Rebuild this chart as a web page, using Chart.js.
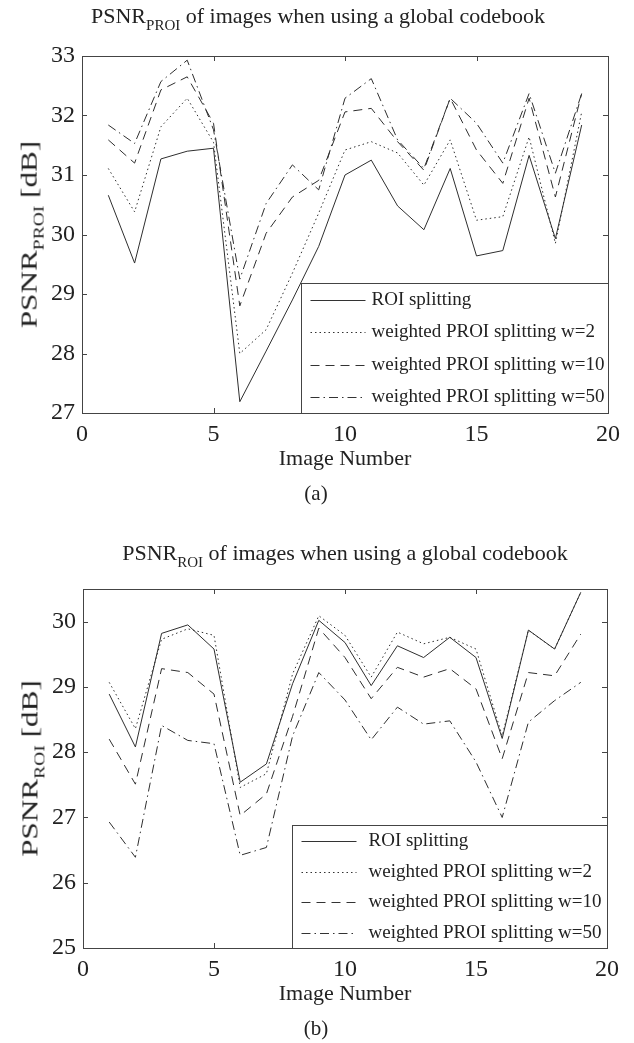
<!DOCTYPE html>
<html>
<head>
<meta charset="utf-8">
<script src="https://cdn.jsdelivr.net/npm/chart.js@4/dist/chart.umd.min.js"></script>
<style>
  body { margin: 0; width: 634px; height: 1043px; background: #fff; position: relative; overflow: hidden;
         font-family: "Liberation Serif", "DejaVu Serif", serif; color: #222; }
  .wrap { position: absolute; left: 0; width: 634px; }
  .txt { position: absolute; white-space: nowrap; line-height: 22px; }
  .sub { font-size: 15px; position: relative; top: 7px; }
  .ylab { position: absolute; white-space: nowrap; font-size: 24px; line-height: 24px;
          transform-origin: center center; }
</style>
</head>
<body>
<div class="wrap" style="top:0;height:520px"><canvas id="chartA"></canvas></div>
<div class="wrap" style="top:520px;height:523px"><canvas id="chartB"></canvas></div>

<div class="txt" style="left:0;width:636px;text-align:center;top:5px;font-size:22px">PSNR<span class="sub">PROI</span> of images when using a global codebook</div>
<div class="txt" style="left:0;width:690px;text-align:center;top:542px;font-size:22px">PSNR<span class="sub">ROI</span> of images when using a global codebook</div>

<div class="txt" style="left:0;width:690px;text-align:center;top:447px;font-size:22px">Image Number</div>
<div class="txt" style="left:0;width:690px;text-align:center;top:982px;font-size:22px">Image Number</div>

<div class="txt" style="left:0;width:632px;text-align:center;top:482px;font-size:21px">(a)</div>
<div class="txt" style="left:0;width:632px;text-align:center;top:1017px;font-size:21px">(b)</div>

<div class="ylab" id="ylabA">PSNR<span class="sub">PROI</span> [dB]</div>
<div class="ylab" id="ylabB">PSNR<span class="sub">ROI</span> [dB]</div>

<script>
// image numbers on the x axis
var imageNo = [1, 2, 3, 4, 5, 6, 7, 8, 9, 10, 11, 12, 13, 14, 15, 16, 17, 18, 19];

var seriesNames = ["ROI splitting", "weighted PROI splitting w=2",
                   "weighted PROI splitting w=10", "weighted PROI splitting w=50"];

// (a) PSNR of the PROI
var proiRoi = [30.66, 29.52, 31.27, 31.40, 31.45, 27.19, 28.04, 28.90, 29.80, 31.00, 31.25, 30.48, 30.08, 31.11, 29.64, 29.73, 31.33, 29.93, 31.84];
var proiW2  = [31.11, 30.38, 31.81, 32.29, 31.55, 28.00, 28.40, 29.35, 30.36, 31.42, 31.56, 31.37, 30.83, 31.59, 30.24, 30.30, 31.64, 29.85, 32.06];
var proiW10 = [31.59, 31.20, 32.43, 32.65, 31.87, 28.80, 30.02, 30.63, 30.91, 32.06, 32.12, 31.56, 31.08, 32.29, 31.42, 30.86, 32.29, 30.63, 32.37];
var proiW50 = [31.84, 31.53, 32.57, 32.93, 31.76, 29.25, 30.52, 31.17, 30.75, 32.29, 32.62, 31.59, 31.11, 32.29, 31.87, 31.20, 32.37, 31.03, 32.37];

// (b) PSNR of the ROI
var roiRoi = [28.89, 28.08, 29.82, 29.95, 29.58, 27.54, 27.82, 29.05, 30.02, 29.68, 29.02, 29.63, 29.45, 29.76, 29.45, 28.21, 29.87, 29.58, 30.45];
var roiW2  = [29.07, 28.36, 29.73, 29.89, 29.79, 27.46, 27.67, 29.20, 30.09, 29.79, 29.15, 29.84, 29.66, 29.76, 29.58, 28.25, 29.87, 29.58, 30.45];
var roiW10 = [28.20, 27.51, 29.28, 29.22, 28.89, 27.03, 27.36, 28.55, 29.90, 29.45, 28.82, 29.30, 29.15, 29.28, 28.97, 27.90, 29.22, 29.17, 29.81];
var roiW50 = [26.93, 26.39, 28.41, 28.18, 28.13, 26.42, 26.54, 28.25, 29.22, 28.80, 28.19, 28.69, 28.43, 28.48, 27.85, 27.00, 28.46, 28.79, 29.07];

var dashes = [[], [1.5, 3], [9, 6], [9, 4, 1.5, 4]];
var serif = "Liberation Serif";

// box round the axes, inward ticks, legend in the lower right corner
const boxPlugin = {
    id: "box",
    afterDatasetsDraw(chart, args, opts) {
        const ctx = chart.ctx, a = chart.chartArea;
        const sx = chart.scales.x, sy = chart.scales.y;
        ctx.save();
        ctx.strokeStyle = "#444";
        ctx.lineWidth = 1;
        ctx.setLineDash([]);
        ctx.beginPath();
        sx.ticks.forEach(t => {
            const p = Math.round(sx.getPixelForValue(t.value)) + 0.5;
            ctx.moveTo(p, a.bottom); ctx.lineTo(p, a.bottom - 5);
            ctx.moveTo(p, a.top); ctx.lineTo(p, a.top + 5);
        });
        sy.ticks.forEach(t => {
            const p = Math.round(sy.getPixelForValue(t.value)) + 0.5;
            ctx.moveTo(a.left, p); ctx.lineTo(a.left + 5, p);
            ctx.moveTo(a.right, p); ctx.lineTo(a.right - 5, p);
        });
        ctx.stroke();
        ctx.strokeRect(Math.round(a.left) + 0.5, Math.round(a.top) + 0.5,
                       Math.round(a.right - a.left), Math.round(a.bottom - a.top));

        // legend
        const lw = opts.width, lh = opts.height;
        const lx = Math.round(a.right - lw) + 0.5, ly = Math.round(a.bottom - lh) + 0.5;
        ctx.fillStyle = "#fff";
        ctx.fillRect(lx, ly, lw, lh);
        ctx.strokeRect(lx, ly, lw, lh);
        ctx.font = "19px " + serif;
        ctx.textBaseline = "middle";
        ctx.textAlign = "left";
        const n = chart.data.datasets.length;
        const step = lh / n;
        chart.data.datasets.forEach((ds, i) => {
            const y = Math.round(ly + step * (i + 0.5)) + 0.5;
            ctx.strokeStyle = "#333";
            ctx.setLineDash(ds.borderDash || []);
            ctx.beginPath();
            ctx.moveTo(lx + 9, y); ctx.lineTo(lx + 64, y);
            ctx.stroke();
            ctx.fillStyle = "#222";
            ctx.fillText(ds.label, lx + opts.textOffset, y);
        });
        ctx.restore();
    }
};

const makeChart = (id, series, yMin, yMax, pad, yW, xH, legend) => {
    var ctx = document.getElementById(id).getContext("2d");
    return new Chart(ctx, {
        type: "line",
        data: {
            datasets: series.map((vals, i) => ({
                label: seriesNames[i],
                data: imageNo.map((x, k) => ({ x: x, y: vals[k] })),
                borderColor: "#2e2e2e",
                borderWidth: 1,
                borderDash: dashes[i],
                pointRadius: 0,
                fill: false,
                tension: 0
            }))
        },
        options: {
            responsive: false,
            animation: false,
            layout: { padding: pad },
            plugins: { legend: { display: false }, tooltip: { enabled: false }, box: legend },
            scales: {
                x: {
                    type: "linear", min: 0, max: 20,
                    ticks: { stepSize: 5, padding: 7, maxRotation: 0, color: "#222",
                             font: { family: serif, size: 24 } },
                    grid: { display: false, drawTicks: false },
                    border: { display: false },
                    afterFit: s => { s.height = xH; }
                },
                y: {
                    min: yMin, max: yMax,
                    ticks: { stepSize: 1, padding: 7, color: "#222",
                             font: { family: serif, size: 24 } },
                    grid: { display: false, drawTicks: false },
                    border: { display: false },
                    // only whole dB values get a label
                    afterBuildTicks: s => { s.ticks = s.ticks.filter(t => Number.isInteger(t.value)); },
                    afterFit: s => { s.width = yW; }
                }
            }
        },
        plugins: [boxPlugin]
    });
};

document.getElementById("chartA").width = 634;
document.getElementById("chartA").height = 520;
document.getElementById("chartB").width = 634;
document.getElementById("chartB").height = 523;

makeChart("chartA", [proiRoi, proiW2, proiW10, proiW50], 27, 33,
          { top: 56, right: 26, left: 0, bottom: 0 }, 82, 107,
          { width: 307, height: 130, textOffset: 70 });
makeChart("chartB", [roiRoi, roiW2, roiW10, roiW50], 25, 30.5,
          { top: 69, right: 27, left: 0, bottom: 0 }, 83, 95,
          { width: 315, height: 123, textOffset: 76 });

// rotated y axis titles, centred on the plot areas
const placeY = (id, cx, cy) => {
    const el = document.getElementById(id);
    const w = el.offsetWidth, hh = el.offsetHeight;
    el.style.left = (cx - w / 2) + "px";
    el.style.top = (cy - hh / 2) + "px";
    el.style.transform = "rotate(-90deg) scaleX(1.3)";
};
placeY("ylabA", 30, 234);
placeY("ylabB", 31, 768);
</script>
</body>
</html>
